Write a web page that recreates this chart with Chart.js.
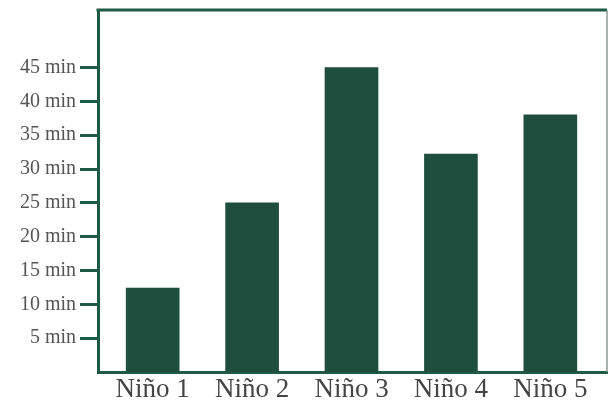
<!DOCTYPE html>
<html>
<head>
<meta charset="utf-8">
<script src="https://cdn.jsdelivr.net/npm/chart.js@4"></script>
<style>
  html, body { margin: 0; padding: 0; background: #fff; }
  #wrap { width: 610px; height: 401px; }
</style>
</head>
<body>
<div id="wrap"><canvas id="c"></canvas></div>
<script>
const categories = ['Niño 1', 'Niño 2', 'Niño 3', 'Niño 4', 'Niño 5'];
const minutes = [12.4, 25, 45, 32.2, 38];
const yTicks = [5, 10, 15, 20, 25, 30, 35, 40, 45];

const frameColor = '#1f5a45';
const barColor = '#1f4e3e';

// top and right edges of the frame
const frame = {
    id: 'frame',
    afterDraw(chart) {
        const { ctx, chartArea: a } = chart;
        ctx.save();
        ctx.strokeStyle = frameColor;
        ctx.lineWidth = 3;
        ctx.beginPath();
        ctx.moveTo(a.left - 1.5, a.top);
        ctx.lineTo(a.right, a.top);
        ctx.stroke();
        ctx.strokeStyle = '#8a9a92';
        ctx.lineWidth = 1.5;
        ctx.beginPath();
        ctx.moveTo(a.right, a.top);
        ctx.lineTo(a.right, a.bottom);
        ctx.stroke();
        ctx.restore();
    }
};

new Chart(document.getElementById('c'), {
    type: 'bar',
    data: {
        datasets: [{
            data: categories.map((c, i) => ({ x: i + 1, y: minutes[i] })),
            backgroundColor: barColor,
            borderWidth: 0,
            barThickness: 53
        }]
    },
    options: {
        responsive: true,
        maintainAspectRatio: false,
        animation: false,
        layout: { padding: { top: 10, right: 3, left: 0, bottom: 0 } },
        plugins: { legend: { display: false }, tooltip: { enabled: false } },
        scales: {
            x: {
                type: 'linear',
                offset: false,
                min: 0.45,
                max: 5.57,
                afterBuildTicks(axis) {
                    axis.ticks = categories.map((c, i) => ({ value: i + 1 }));
                },
                grid: { display: false, drawTicks: false },
                border: { display: true, color: frameColor, width: 3 },
                ticks: {
                    color: '#444',
                    padding: 2,
                    font: { family: 'Liberation Serif', size: 27 },
                    callback: v => categories[v - 1]
                },
                afterFit(scale) {
                    scale.height = 29;
                    scale.paddingLeft = 0;
                    scale.paddingRight = 0;
                }
            },
            y: {
                min: 0,
                max: 53.5,
                afterBuildTicks(axis) {
                    axis.ticks = yTicks.map(v => ({ value: v }));
                },
                grid: {
                    drawOnChartArea: false,
                    tickLength: 18,
                    tickWidth: 3,
                    tickColor: frameColor
                },
                border: { display: true, color: frameColor, width: 3 },
                ticks: {
                    color: '#555',
                    padding: 4,
                    font: { family: 'Liberation Serif', size: 20 },
                    callback: v => v + ' min'
                },
                afterFit(scale) {
                    scale.width = 98;
                    scale.paddingTop = 0;
                    scale.paddingBottom = 0;
                }
            }
        }
    },
    plugins: [frame]
});
</script>
</body>
</html>
